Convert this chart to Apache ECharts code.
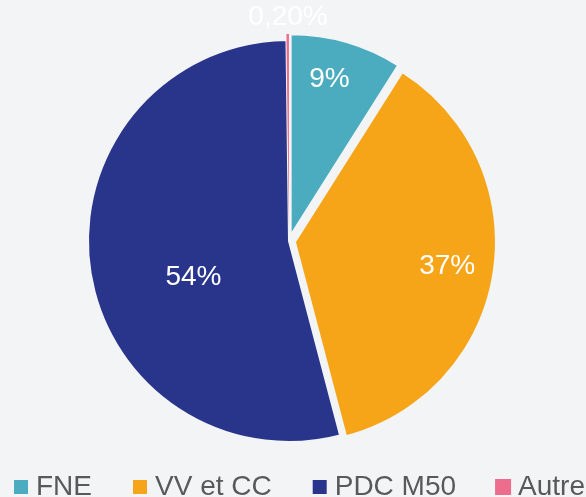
<!DOCTYPE html>
<html>
<head>
<meta charset="utf-8">
<script src="https://cdn.jsdelivr.net/npm/echarts@6/dist/echarts.min.js"></script>
<style>
  html, body { margin: 0; padding: 0; background: #f3f4f6; }
  #chart { width: 586px; height: 497px; }
</style>
</head>
<body>
<div id="chart"></div>
<script>
var categories = ['FNE', 'VV et CC', 'PDC M50', 'Autre'];
var shares = [9, 37, 54, 0.2];
var colors = ['#4bacc0', '#f6a519', '#28358b', '#ec6d8d'];
var exploded = [true, true, false, true];

var bg = '#f3f4f6';
// label nudges (Excel "best fit" placement), per slice
var labelShift = [[10, -57], [50, 9], [7, 22], [45, -17]];

var chart = echarts.init(document.getElementById('chart'), null, { renderer: 'canvas' });

function fmtPct(v) {
  return v < 1 ? v.toFixed(2).replace('.', ',') + '%' : v + '%';
}

var pieData = categories.map(function (name, i) {
  var item = {
    name: name,
    value: shares[i],
    selected: exploded[i],
    itemStyle: { color: colors[i], borderColor: bg, borderWidth: i === 3 ? 0 : 2 }
  };
  if (i === 3) {
    item.label = { position: 'outside' };
    item.labelLine = { show: false, length: 0, length2: 0 };
  }
  return item;
});

var option = {
  backgroundColor: bg,
  animation: false,
  legend: {
    data: categories,
    left: 12,
    top: 473,
    padding: 0,
    icon: 'rect',
    itemWidth: 16,
    itemHeight: 16,
    itemGap: 39,
    textStyle: { fontSize: 28, color: '#595959', fontFamily: 'Liberation Sans', padding: [0, 0, 0, 2] }
  },
  series: [
    {
      type: 'pie',
      center: [289, 241],
      radius: 201,
      startAngle: 90,
      clockwise: true,
      selectedMode: 'multiple',
      selectedOffset: 6,
      avoidLabelOverlap: false,
      emphasis: { disabled: true },
      label: {
        show: true,
        position: 'inside',
        color: '#ffffff',
        fontSize: 28,
        fontFamily: 'Liberation Sans',
        formatter: function (p) { return fmtPct(p.value); }
      },
      labelLine: { show: false },
      labelLayout: function (p) {
        var s = labelShift[p.dataIndex];
        return { dx: s[0], dy: s[1] };
      },
      data: pieData
    }
  ]
};
chart.setOption(option);
</script>
</body>
</html>
